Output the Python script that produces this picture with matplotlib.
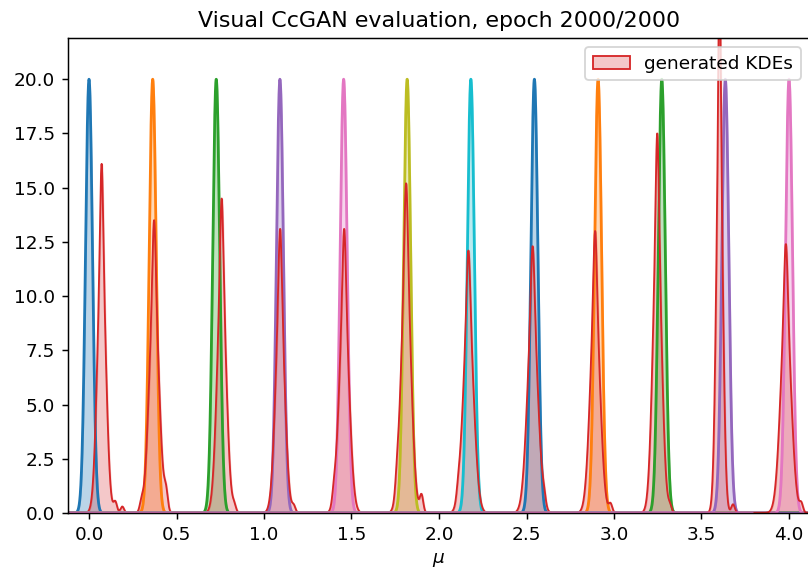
import numpy as np
import matplotlib
matplotlib.use("Agg")
import matplotlib.pyplot as plt
from matplotlib.patches import Patch

# true label means (12 equally spaced modes) and their peak density
true_centers = [0.0, 0.364, 0.727, 1.091, 1.455, 1.818, 2.182, 2.545, 2.909, 3.273, 3.636, 4.0]
true_peak = 20.0
true_colors = ["C0", "C1", "C2", "C4", "C6", "C8", "C9", "C0", "C1", "C2", "C4", "C6"]

# generated KDE modes: center, peak height, width
gen_centers = [0.072, 0.372, 0.758, 1.092, 1.458, 1.812, 2.168, 2.535, 2.892, 3.247, 3.603, 3.982]
gen_heights = [16.1, 13.5, 14.5, 13.1, 13.1, 15.2, 12.1, 12.3, 13.0, 17.5, 25.0, 12.4]
gen_widths = [0.024, 0.028, 0.026, 0.026, 0.028, 0.028, 0.030, 0.030, 0.028, 0.025, 0.018, 0.030]

# small side bumps in the generated KDEs: (mode index, center, height)
bumps = [(0, 0.15, 0.5), (0, 0.19, 0.3), (1, 0.30, 0.4), (1, 0.44, 0.8),
         (2, 0.83, 0.3), (3, 1.17, 0.3), (4, 1.40, 0.5), (5, 1.76, 0.6),
         (5, 1.90, 0.8), (6, 2.11, 0.4), (7, 2.60, 0.4), (8, 2.98, 0.4),
         (9, 3.32, 0.3), (10, 3.68, 0.4), (11, 4.07, 0.4)]

x = np.linspace(-0.15, 4.15, 6000)
sigma_true = 1.0 / (true_peak * np.sqrt(2 * np.pi))


def gauss(xx, c, h, s):
    return h * np.exp(-0.5 * ((xx - c) / s) ** 2)


dpi = 133
fig = plt.figure(figsize=(808 / dpi, 570 / dpi), dpi=dpi)
ax = fig.add_axes([68 / 808, 57 / 570, 742 / 808, 475 / 570])

for i, c in enumerate(true_centers):
    y = gauss(x, c, true_peak, sigma_true)
    ax.plot(x, y, color=true_colors[i], lw=1.5)
    ax.fill_between(x, y, color=true_colors[i], alpha=0.3)

    # generated KDE around this mode: broad base + narrow spike
    gc, gh, gw = gen_centers[i], gen_heights[i], gen_widths[i]
    xl = x[(x > gc - 0.18) & (x < gc + 0.18)]
    yg = gauss(xl, gc, gh * 0.75, gw) + gauss(xl, gc, gh * 0.25, gw / 3)
    for (k, bc, bh) in bumps:
        if k == i:
            yg = yg + gauss(xl, bc, bh, 0.01)
    ax.plot(xl, yg, color="#d62728", lw=1)
    ax.fill_between(xl, yg, color="#d62728", alpha=0.25)

ax.set_xlim(-0.12, 4.12)
ax.set_ylim(0, 21.9)
ax.set_xlabel(r"$\mu$")
ax.set_title("Visual CcGAN evaluation, epoch 2000/2000")
ax.legend(handles=[Patch(facecolor=(0.839, 0.153, 0.157, 0.25), edgecolor="#d62728",
                         label="generated KDEs")], loc="upper right")

fig.savefig("out.png", dpi=dpi)
